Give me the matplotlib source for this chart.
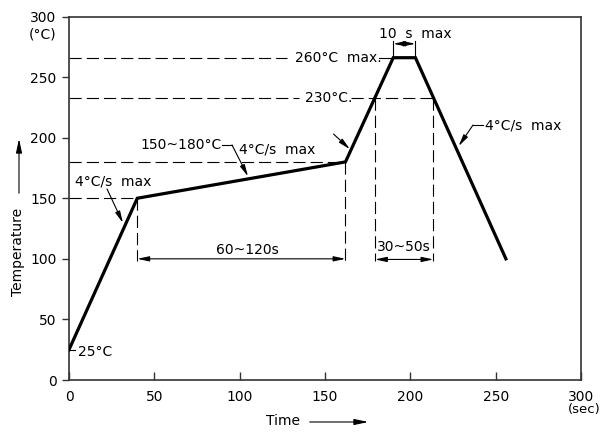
import numpy as np
import matplotlib
matplotlib.use('Agg')
import matplotlib.pyplot as plt
from matplotlib.patches import FancyArrowPatch

# reflow profile
time_s = [0, 40, 162, 190, 203, 256]
temp_c = [25, 150, 180, 266, 266, 100]
liquidus_c = 233
ticks = [0, 50, 100, 150, 200, 250, 300]
dim_y = 100

plt.rcParams['font.family'] = 'DejaVu Sans'
plt.rcParams['font.size'] = 10

fig = plt.figure(figsize=(6.03, 4.33), dpi=100)
ax = fig.add_axes([69/603, 53/433, 512/603, 363.5/433])
ax.set_xlim(0, 300); ax.set_ylim(0, 300)
ax.set_xticks(ticks); ax.set_yticks(ticks)
ax.tick_params(axis='x', direction='in', length=6, pad=7, width=1, color='#333')
ax.tick_params(axis='y', direction='out', length=5, pad=4, width=1, color='#333')
for s in ax.spines.values():
    s.set_color('#333'); s.set_linewidth(1.2)

dash = dict(color='k', lw=0.8, ls=(0, (11, 4.5)))
thin = dict(color='k', lw=0.8)
head = '-|>,head_length=0.7,head_width=0.15'

# liquidus crossings
t_up = np.interp(liquidus_c, temp_c[2:4], time_s[2:4])
t_dn = np.interp(liquidus_c, temp_c[5:3:-1], time_s[5:3:-1])

# horizontal reference lines
ax.plot([0, time_s[1]], [temp_c[1]] * 2, **dash)
ax.plot([0, time_s[2]], [temp_c[2]] * 2, **dash)
ax.plot([0, 127.5], [temp_c[3]] * 2, **dash)
ax.plot([0, 135], [liquidus_c] * 2, **dash)
ax.plot([165.5, t_dn], [liquidus_c] * 2, **dash)

# vertical reference lines
for t, T in [(time_s[1], temp_c[1]), (time_s[2], temp_c[2])]:
    ax.plot([t, t], [T, dim_y - 1.5], **dash)
for t in [t_up, t_dn]:
    ax.plot([t, t], [liquidus_c, dim_y - 2], **dash)

# profile
ax.plot(time_s, temp_c, color='k', lw=2.3, solid_joinstyle='miter', zorder=5)

def leader(pts):
    xs, ys = zip(*pts)
    ax.plot(xs[:-1], ys[:-1], **thin)
    ax.annotate('', xy=pts[-1], xytext=pts[-2],
                arrowprops=dict(arrowstyle=head, color='k', lw=0.8, shrinkA=0, shrinkB=0))

def dim(x0, x1, y):
    ax.annotate('', xy=(x1, y), xytext=(x0, y),
                arrowprops=dict(arrowstyle='<|-|>,head_length=0.7,head_width=0.15',
                                color='k', lw=0.8, shrinkA=0, shrinkB=0))

# labels
ax.plot([0, 3.5], [temp_c[0]] * 2, **thin)
ax.text(5, 23.5, '25°C', fontsize=10, ha='left', va='center')

ax.text(3.5, 164, '4°C/s  max', ha='left', va='center')
leader([(22.3, 157.6), (31.6, 129.6)])

ax.text(42, 194, '150~180°C', ha='left', va='center')
leader([(89.6, 194), (95.5, 194), (104.9, 168)])

ax.text(99.5, 190, '4°C/s  max', ha='left', va='center')
leader([(155, 203), (164.6, 190.5)])

ax.text(243.5, 210, '4°C/s  max', ha='left', va='center')
leader([(242.6, 210.4), (236.7, 210.4), (228.3, 193)])

ax.text(132.4, temp_c[3], '260°C  max.', ha='left', va='center')
ax.plot([181.6, time_s[3]], [temp_c[3]] * 2, **thin)

ax.text(138.3, liquidus_c, '230°C.', ha='left', va='center')

# 10 s max
for t in time_s[3:5]:
    ax.plot([t, t], [temp_c[3], 280], **thin)
dim(time_s[3], time_s[4], 277.5)
ax.text(202.7, 285.6, '10  s  max', ha='center', va='center')

dim(time_s[1], time_s[2], dim_y)
ax.text(104.6, 107.5, '60~120s', ha='center', va='center')
dim(t_up, t_dn, dim_y - 0.5)
ax.text(196.3, 110, '30~50s', ha='center', va='center')

# axis captions
fig.text(43/603, 1 - 35/433, '(°C)', ha='center', va='center')
fig.text(584/603, 1 - 410/433, '(sec)', fontsize=9.5, ha='center', va='center')
fig.text(283/603, 1 - 421/433, 'Time', ha='center', va='center')
fig.text(18/603, 1 - 252/433, 'Temperature', ha='center', va='center', rotation=90)
for p0, p1 in [((307, 422), (371, 422)), ((19, 196), (19, 136))]:
    fig.add_artist(FancyArrowPatch((p0[0]/603, 1 - p0[1]/433), (p1[0]/603, 1 - p1[1]/433),
                                   transform=fig.transFigure, arrowstyle=head,
                                   mutation_scale=12, color='k', lw=0.8))

fig.savefig('out.png', dpi=100)
